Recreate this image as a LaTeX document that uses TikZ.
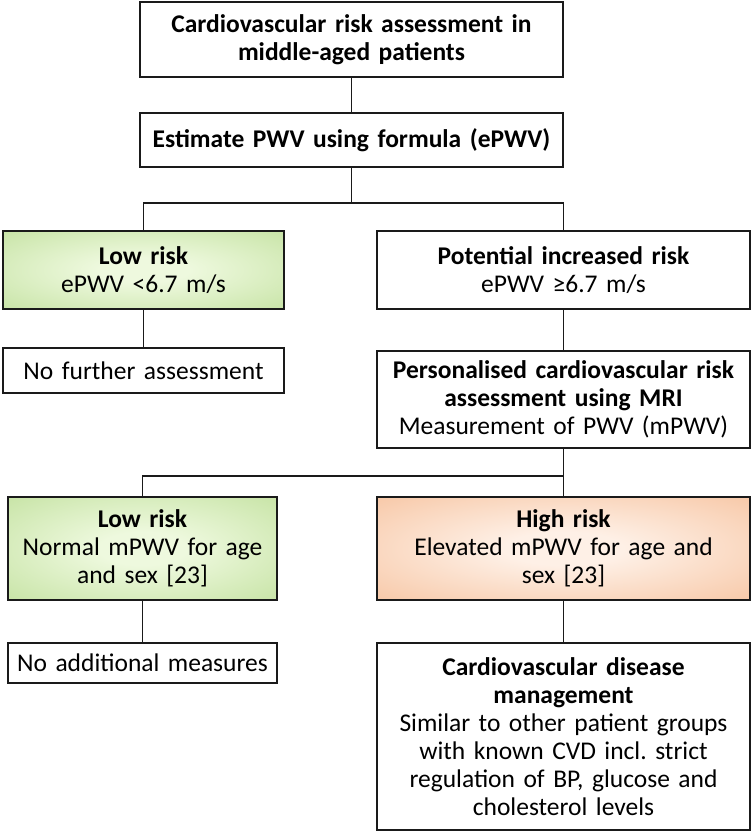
\documentclass[tikz,border=0pt]{standalone}
\usepackage{fontspec}
\setmainfont{Carlito}
\frenchspacing
\definecolor{ginner}{HTML}{EEF9DE}
\definecolor{gouter}{HTML}{B4D98A}
\definecolor{oinner}{HTML}{FEF0E6}
\definecolor{oouter}{HTML}{F4B488}
\definecolor{edge}{HTML}{1A1A1A}
\pgfdeclareradialshading{greenrad}{\pgfpoint{0bp}{0bp}}{color(0bp)=(ginner); color(8bp)=(ginner); color(50bp)=(gouter); color(72bp)=(gouter)}
\pgfdeclareradialshading{orangerad}{\pgfpoint{0bp}{0bp}}{color(0bp)=(oinner); color(8bp)=(oinner); color(50bp)=(oouter); color(72bp)=(oouter)}
\tikzset{
  box/.style={draw=edge, line width=1.5pt, align=center, inner sep=2pt,
    font=\fontsize{25.5}{28}\selectfont},
  greenbox/.style={box, shading=greenrad},
  orangebox/.style={box, shading=orangerad},
  link/.style={draw=edge, line width=1.3pt}
}
\begin{document}
\begin{tikzpicture}[x=1pt, y=-1pt]
\useasboundingbox (0,0) rectangle (752,838);
\fill[white] (0,0) rectangle (752,838);

\node[box, text width=419pt, minimum height=75pt] (top) at (351.5,39.5)
  {\textbf{Cardiovascular risk assessment in}\\\textbf{middle-aged patients}};
\node[box, text width=419pt, minimum height=54pt] (est) at (351.5,140)
  {\textbf{Estimate PWV using formula (ePWV)}};

\node[greenbox, text width=277pt, minimum height=78pt] (low1) at (143.5,270)
  {\textbf{Low risk}\\ePWV <6.7 m/s};
\node[box, text width=369pt, minimum height=78pt] (pot) at (563.5,270)
  {\textbf{Potential increased risk}\\ePWV ≥6.7 m/s};

\node[box, text width=277pt, minimum height=45pt] (nofur) at (143.5,370.5)
  {No further assessment};
\node[box, text width=369pt, minimum height=97pt] (pers) at (563.5,399.5)
  {\textbf{Personalised cardiovascular risk}\\\textbf{assessment using MRI}\\Measurement of PWV (mPWV)};

\node[greenbox, text width=265pt, minimum height=103pt] (low2) at (142.5,548.5)
  {\textbf{Low risk}\\Normal mPWV for age\\and sex {[}23{]}};
\node[orangebox, text width=369pt, minimum height=103pt] (high) at (563.5,548.5)
  {\textbf{High risk}\\Elevated mPWV for age and\\sex {[}23{]}};

\node[box, text width=265pt, minimum height=40pt] (noadd) at (142.5,663)
  {No additional measures};
\node[box, text width=369pt, minimum height=187pt] (cvd) at (563.5,736.5)
  {\textbf{Cardiovascular disease}\\\textbf{management}\\Similar to other patient groups\\with known CVD incl. strict\\regulation of BP, glucose and\\cholesterol levels};

\coordinate (j1) at (351.5,203);
\coordinate (j2) at (563.5,476);

\draw[link] (top.south) -- (est.north);
\draw[link] (est.south) -- (j1);
\draw[link] (j1) -| (low1.north);
\draw[link] (j1) -| (pot.north);
\draw[link] (low1.south) -- (nofur.north);
\draw[link] (pot.south) -- (pers.north);
\draw[link] (pers.south) -- (j2);
\draw[link] (j2) -- (high.north);
\draw[link] (j2) -| (low2.north);
\draw[link] (low2.south) -- (noadd.north);
\draw[link] (high.south) -- (cvd.north);
\end{tikzpicture}
\end{document}
